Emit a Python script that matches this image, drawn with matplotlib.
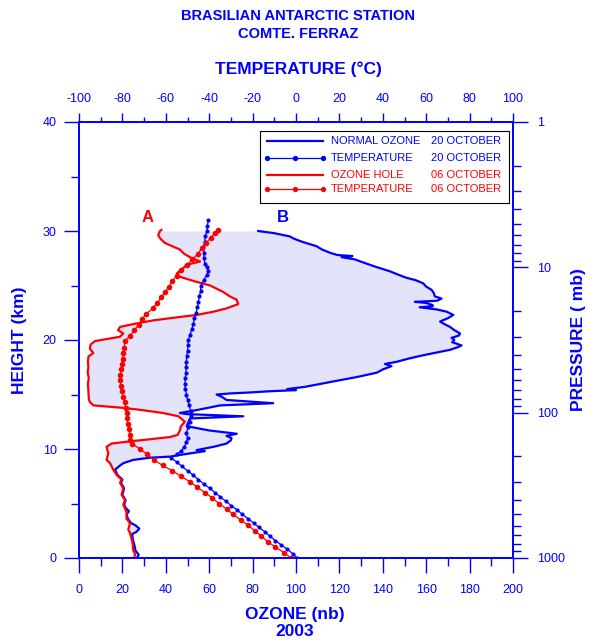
import numpy as np
import matplotlib.pyplot as plt
from matplotlib.ticker import MultipleLocator, LogLocator, NullFormatter, FuncFormatter
from matplotlib.patches import Rectangle
from matplotlib.lines import Line2D

plt.rcParams['font.family'] = ['Liberation Sans', 'DejaVu Sans']
plt.rcParams['axes.unicode_minus'] = False

# ozone hole, 06 october (height km, ozone nb)
hole_h = [0.0, 0.4, 0.7, 1.2, 1.7, 2.3, 2.6, 3.2, 3.6, 4.2, 4.9, 5.3, 5.8, 6.4, 6.9, 7.2,
          7.6, 8.1, 8.7, 9.0, 9.6, 10.2, 10.5, 10.7, 10.9, 11.1, 11.3, 11.7, 12.1, 12.5,
          13.0, 13.3, 13.6, 13.8, 14.0, 14.3, 14.5, 15.0, 15.5, 16.0, 16.5, 17.0, 17.5,
          18.0, 18.5, 18.8, 19.2, 19.6, 19.9, 20.3, 20.6, 20.9, 21.2, 21.5, 21.8, 22.1,
          22.3, 22.6, 22.9, 23.3, 23.7, 24.0, 24.4, 24.7, 25.0, 25.4, 25.8, 26.1, 26.5,
          26.9, 27.2, 27.5, 27.9, 28.3, 28.6, 28.9, 29.3, 29.6, 30.0, 30.1]
hole_o = [25.5, 25.8, 25.0, 24.8, 24.3, 23.5, 22.7, 23.5, 21.9, 21.9, 20.4, 21.2, 19.6, 20.4,
          18.9, 19.6, 17.4, 15.8, 14.3, 12.7, 13.5, 12.7, 15.0, 23.5, 33.0, 42.0, 45.5,
          46.5, 47.0, 48.8, 45.8, 38.8, 28.0, 18.9, 6.6, 5.1, 4.6, 4.4, 4.3, 4.1, 4.5, 4.0,
          4.3, 4.1, 4.4, 6.6, 5.0, 5.4, 7.4, 18.9, 20.4, 18.0, 18.9, 26.0, 34.2, 46.0,
          54.2, 62.0, 68.0, 73.4, 72.6, 69.5, 66.5, 63.5, 60.4, 53.0, 46.5, 45.0, 47.5,
          49.6, 55.8, 52.0, 48.5, 46.5, 43.0, 39.6, 37.5, 36.5, 37.3, 38.0]

# normal ozone, 20 october
norm_h = [0.0, 0.3, 0.7, 1.2, 1.7, 2.2, 2.4, 2.7, 3.0, 3.2, 3.6, 4.0, 4.3, 4.6, 4.9, 5.3,
          5.8, 6.4, 6.9, 7.2, 7.6, 8.1, 8.5, 8.7, 9.0, 9.2, 9.3, 9.5, 9.8, 9.9, 10.2,
          10.5, 10.8, 11.0, 11.2, 11.4, 11.7, 12.1, 12.5, 12.8, 13.0, 13.2, 13.3, 13.6,
          14.0, 14.2, 14.5, 14.8, 15.0, 15.1, 15.2, 15.3, 15.4, 15.5, 15.7, 16.0, 16.2,
          16.6, 17.0, 17.3, 17.6, 17.8, 18.0, 18.3, 18.6, 18.9, 19.1, 19.3, 19.5, 19.8,
          20.0, 20.2, 20.4, 20.6, 20.9, 21.2, 21.5, 21.7, 22.0, 22.3, 22.6, 22.8, 23.0,
          23.1, 23.2, 23.4, 23.5, 23.6, 23.8, 24.0, 24.3, 24.6, 24.9, 25.2, 25.5, 25.7,
          26.0, 26.3, 26.7, 27.0, 27.4, 27.6, 27.7, 27.8, 28.0, 28.3, 28.6, 29.0, 29.3,
          29.5, 29.8, 30.0]
norm_o = [26.7, 27.5, 26.0, 25.5, 24.8, 24.5, 26.5, 27.8, 26.0, 24.0, 22.5, 22.0, 23.0,
          21.5, 20.8, 21.5, 20.0, 20.8, 19.3, 20.0, 17.8, 16.6, 19.0, 20.4, 25.0, 32.7,
          41.9, 48.0, 58.0, 54.2, 62.0, 68.0, 70.0, 70.3, 68.0, 72.7, 60.0, 49.6, 50.5,
          51.2, 75.7, 50.0, 46.5, 55.0, 65.0, 89.5, 68.0, 65.7, 63.4, 70.0, 80.0, 88.0,
          100.0, 96.0, 104.0, 112.0, 117.2, 128.0, 137.2, 140.0, 144.0, 141.0, 146.4,
          152.0, 158.6, 166.0, 171.0, 174.0, 176.3, 172.0, 173.0, 171.7, 175.0, 175.6,
          173.0, 171.0, 168.0, 166.4, 170.0, 172.5, 169.4, 165.0, 157.0, 163.0, 163.0,
          160.0, 154.8, 165.0, 167.1, 164.0, 163.5, 162.5, 160.0, 158.6, 155.0, 151.0,
          147.0, 143.3, 137.0, 132.6, 127.0, 121.0, 126.0, 119.0, 115.7, 112.0, 109.5,
          103.0, 99.0, 97.2, 90.0, 82.6]

# temperature 20 october (height km, deg C)
t20_h = [0.0, 0.4, 0.8, 1.2, 1.6, 2.0, 2.4, 2.8, 3.2, 3.6, 4.0, 4.4, 4.8, 5.2, 5.6, 6.0,
         6.4, 6.8, 7.2, 7.6, 8.0, 8.4, 8.8, 9.2, 9.5, 9.8, 10.2, 10.6, 11.0, 11.5, 12.0,
         12.5, 13.0, 13.5, 14.0, 14.5, 15.0, 15.5, 16.0, 16.5, 17.0, 17.5, 18.0, 18.5,
         19.0, 19.5, 20.0, 20.5, 21.0, 21.5, 22.0, 22.5, 23.0, 23.5, 24.0, 24.5, 25.0,
         25.5, 26.0, 26.3, 26.7, 27.0, 27.5, 28.0, 28.5, 29.0, 29.5, 30.0, 30.5, 31.0]
t20_t = [0.5, -1.5, -4.0, -6.8, -9.5, -12.0, -14.3, -17.0, -19.5, -22.0, -24.8, -27.0,
         -29.8, -32.3, -34.8, -37.3, -39.8, -42.5, -45.0, -47.3, -50.0, -52.5, -55.0,
         -57.6, -55.0, -53.0, -51.5, -50.5, -50.0, -50.5, -49.6, -49.0, -48.5, -48.6,
         -49.2, -50.0, -50.5, -51.0, -51.2, -51.0, -50.6, -50.8, -50.5, -50.4, -50.0,
         -49.8, -49.6, -48.8, -48.0, -47.3, -46.8, -46.0, -45.5, -45.0, -44.5, -44.0,
         -43.8, -42.5, -41.0, -40.4, -41.0, -41.9, -42.5, -42.3, -42.7, -42.0, -41.9,
         -41.0, -40.8, -40.4]

# temperature 06 october
t06_h = [0.0, 0.5, 1.0, 1.5, 2.0, 2.5, 3.0, 3.5, 4.0, 4.5, 5.0, 5.5, 6.0, 6.5, 7.0, 7.5,
         8.0, 8.5, 9.0, 9.5, 10.0, 10.5, 10.8, 11.3, 11.8, 12.3, 12.8, 13.3, 13.8, 14.3,
         14.8, 15.3, 15.8, 16.3, 16.8, 17.3, 17.8, 18.3, 18.8, 19.3, 19.9, 20.4, 20.9,
         21.4, 21.9, 22.4, 22.9, 23.4, 23.9, 24.4, 24.9, 25.4, 25.9, 26.4, 26.9, 27.4,
         27.9, 28.4, 28.9, 29.4, 29.8, 30.1]
t06_t = [-2.3, -5.5, -9.5, -13.0, -16.0, -19.0, -22.0, -25.5, -29.0, -32.0, -35.5, -38.5,
         -42.0, -45.5, -49.0, -53.0, -57.0, -61.5, -65.5, -68.5, -72.0, -75.5, -76.5,
         -76.5, -77.0, -77.5, -78.0, -78.1, -78.5, -79.0, -79.6, -80.4, -80.8, -81.1,
         -81.0, -80.6, -80.2, -79.8, -79.6, -79.2, -78.8, -76.5, -74.5, -72.5, -71.0,
         -69.0, -66.0, -64.0, -62.0, -60.4, -58.5, -57.0, -55.0, -53.0, -50.2, -47.8,
         -45.2, -43.5, -41.5, -39.2, -37.5, -35.8]

blue = '#0000ff'
red = '#ff0000'

fig = plt.figure(figsize=(5.95, 6.44), dpi=100)
ax = fig.add_axes([79 / 595, 1 - 558 / 644, 434 / 595, 436 / 644])
ax.set_xlim(0, 200)
ax.set_ylim(0, 40)

# shaded area between the two ozone profiles
hh = np.linspace(0, 30, 3001)
oh = np.interp(hh, hole_h, hole_o)
on = np.interp(hh, norm_h, norm_o)
ax.fill_betweenx(hh, oh, on, where=on > oh, interpolate=True,
                 color='#e3e3fa', lw=0, zorder=1)

ax.plot(norm_o, norm_h, color=blue, lw=1.6, zorder=3)
ax.plot(hole_o, hole_h, color=red, lw=1.6, zorder=3)

ax.text(31.5, 31.2, 'A', color=red, fontsize=12, fontweight='bold', ha='center', va='center')
ax.text(94, 31.2, 'B', color=blue, fontsize=12, fontweight='bold', ha='center', va='center')

ax_t = ax.twiny()
ax_t.set_xlim(-100, 100)
ax_t.plot(t20_t, t20_h, color=blue, lw=0.9, marker='o', ms=2.0, zorder=4)
ax_t.plot(t06_t, t06_h, color=red, lw=0.9, marker='o', ms=3.0, zorder=4)

ax_p = ax.twinx()
ax_p.set_yscale('log')
ax_p.set_ylim(1000, 1)

# ticks
ax.xaxis.set_major_locator(MultipleLocator(20))
ax.xaxis.set_minor_locator(MultipleLocator(10))
ax.yaxis.set_major_locator(MultipleLocator(10))
ax.yaxis.set_minor_locator(MultipleLocator(5))
ax_t.xaxis.set_major_locator(MultipleLocator(20))
ax_t.xaxis.set_minor_locator(MultipleLocator(10))
ax_p.yaxis.set_major_locator(LogLocator(base=10, numticks=10))
ax_p.yaxis.set_minor_locator(LogLocator(base=10, subs=np.arange(2, 10), numticks=20))
ax_p.yaxis.set_major_formatter(FuncFormatter(lambda v, p: '%d' % v))
ax_p.yaxis.set_minor_formatter(NullFormatter())

ax.tick_params(axis='x', which='major', direction='out', length=11, width=1, pad=8,
               colors=blue, labelsize=9, top=False)
ax.tick_params(axis='x', which='minor', direction='out', length=6, width=1, colors=blue, top=False)
ax.tick_params(axis='y', which='major', direction='out', length=11, width=1, pad=5,
               colors=blue, labelsize=9, right=False)
ax.tick_params(axis='y', which='minor', direction='out', length=6, width=1, colors=blue, right=False)
ax_t.tick_params(axis='x', which='major', direction='out', length=6.5, width=1, pad=6,
                 colors=blue, labelsize=9)
ax_t.tick_params(axis='x', which='minor', direction='out', length=3.5, width=1, colors=blue)
ax_p.tick_params(axis='y', which='major', direction='out', length=11, width=1, pad=6,
                 colors=blue, labelsize=9)
ax_p.tick_params(axis='y', which='minor', direction='out', length=6, width=1, colors=blue)

for a in (ax, ax_t, ax_p):
    for s in a.spines.values():
        s.set_color(blue)
        s.set_linewidth(1.1)

# legend
tr = ax_p.transAxes
ax_p.add_patch(Rectangle((0.4195, 0.8110), 0.5740, 0.1650, transform=tr, facecolor='#808080',
                         edgecolor='none', zorder=9, clip_on=False))
ax_p.add_patch(Rectangle((0.4165, 0.8149), 0.5740, 0.1645, transform=tr, facecolor='white',
                         edgecolor='black', lw=0.8, zorder=10, clip_on=False))
rows = [0.9564, 0.9167, 0.8784, 0.8456]
names = ['NORMAL OZONE', 'TEMPERATURE', 'OZONE HOLE', 'TEMPERATURE']
dates = ['20 OCTOBER', '20 OCTOBER', '06 OCTOBER', '06 OCTOBER']
cols = [blue, blue, red, red]
marks = [None, 'o', None, 'o']
for y, n, d, c, m in zip(rows, names, dates, cols, marks):
    if m is None:
        ln = Line2D([0.4332, 0.5622], [y, y], transform=tr, color=c, lw=1.6, zorder=11)
    else:
        ln = Line2D([0.4332, 0.4977, 0.5622], [y, y, y], transform=tr, color=c, lw=0.9,
                    marker='o', ms=2.8, zorder=11)
    ax_p.add_artist(ln)
    ax_p.text(0.5806, y, n, transform=tr, color=c, fontsize=8, ha='left', va='center', zorder=12)
    ax_p.text(0.9724, y, d, transform=tr, color=c, fontsize=8, ha='right', va='center', zorder=12)

# titles and axis labels
fig.text(298 / 595, 1 - 16 / 644, 'BRASILIAN ANTARCTIC STATION', color=blue, fontsize=10.5,
         fontweight='bold', ha='center', va='center')
fig.text(298 / 595, 1 - 34 / 644, 'COMTE. FERRAZ', color=blue, fontsize=10.5,
         fontweight='bold', ha='center', va='center')
fig.text(298 / 595, 1 - 69 / 644, 'TEMPERATURE (°C)', color=blue, fontsize=12.5,
         fontweight='bold', ha='center', va='center')
fig.text(295 / 595, 1 - 615 / 644, 'OZONE (nb)', color=blue, fontsize=12.5,
         fontweight='bold', ha='center', va='center')
fig.text(295 / 595, 1 - 632 / 644, '2003', color=blue, fontsize=12.5,
         fontweight='bold', ha='center', va='center')
fig.text(20 / 595, 1 - 340 / 644, 'HEIGHT (km)', color=blue, fontsize=12.5,
         fontweight='bold', ha='center', va='center', rotation=90)
fig.text(579 / 595, 1 - 340 / 644, 'PRESSURE ( mb)', color=blue, fontsize=12.5,
         fontweight='bold', ha='center', va='center', rotation=90)

fig.savefig('out.png', dpi=100)
